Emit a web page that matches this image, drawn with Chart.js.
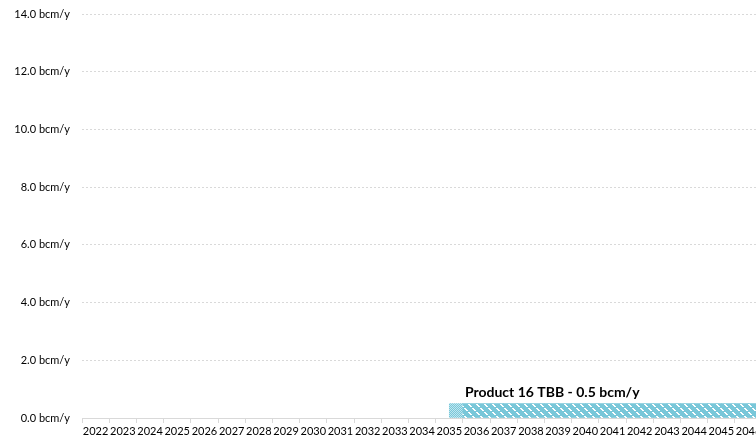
<!DOCTYPE html>
<html>
<head>
<meta charset="utf-8">
<script src="https://cdn.jsdelivr.net/npm/chart.js@4/dist/chart.umd.min.js"></script>
<style>
html,body{margin:0;padding:0;background:#fff;overflow:hidden;width:756px;height:439px;}
#wrap{position:absolute;left:0;top:0;width:877px;height:439px;}
</style>
</head>
<body>
<div id="wrap"><canvas id="c" width="877" height="439"></canvas></div>
<script>
// ---- data ----
const years = ['2022','2023','2024','2025','2026','2027','2028','2029','2030','2031','2032','2033','2034','2035','2036','2037','2038','2039','2040','2041','2042','2043','2044','2045','2046','2047','2048','2049','2050'];
// first half of each year (bcm/y)
const tbbFirstHalf  = [null,null,null,null,null,null,null,null,null,null,null,null,null,null,0.5,0.5,0.5,0.5,0.5,0.5,0.5,0.5,0.5,0.5,0.5,0.5,0.5,0.5,0.5];
// second half of each year (bcm/y) - start-up mid 2035
const tbbSecondHalf = [null,null,null,null,null,null,null,null,null,null,null,null,null,0.5,0.5,0.5,0.5,0.5,0.5,0.5,0.5,0.5,0.5,0.5,0.5,0.5,0.5,0.5,0.5];
const productName = 'Product 16 TBB';
const capacity = 0.5;
const yTicks = [0,2,4,6,8,10,12,14];

// ---- patterns ----
const BASE = '#79C7D9';
function hatch(){
  const c = document.createElement('canvas'); c.width = 8; c.height = 8;
  const g = c.getContext('2d');
  g.fillStyle = BASE; g.fillRect(0,0,8,8);
  g.fillStyle = '#ffffff';
  for (let i = 0; i < 8; i++) { if (i % 4 === 3) continue; g.fillRect(i, i, 2, 1); }
  return g.createPattern(c, 'repeat');
}
function dense(){
  const c = document.createElement('canvas'); c.width = 2; c.height = 2;
  const g = c.getContext('2d');
  g.fillStyle = BASE; g.fillRect(0,0,2,2);
  g.fillStyle = '#bfe6ef'; g.fillRect(0,0,1,1); g.fillRect(1,1,1,1);
  return g.createPattern(c, 'repeat');
}
const hatchP = hatch(), denseP = dense();
const firstIdx = tbbSecondHalf.findIndex(v => v !== null);
const fillFor = ctx => ctx.dataIndex === firstIdx && tbbFirstHalf[ctx.dataIndex] === null ? denseP : hatchP;

const FONT = "Lato, 'Open Sans', sans-serif";

const labelPlugin = {
  id: 'tbbLabel',
  afterDatasetsDraw(chart){
    const meta = chart.getDatasetMeta(0);
    const idx = tbbFirstHalf.findIndex(v => v !== null);
    const el = meta.data[idx];
    if (!el) return;
    const x = el.x - el.width / 2;
    const y = chart.scales.y.getPixelForValue(capacity);
    const g = chart.ctx;
    g.save();
    g.font = "bold 14px " + FONT;
    g.fillStyle = '#000';
    g.textAlign = 'left';
    g.textBaseline = 'alphabetic';
    g.fillText(productName + ' - ' + capacity.toFixed(1) + ' bcm/y', x + 2, y - 7);
    g.restore();
  }
};

new Chart(document.getElementById('c'), {
  type: 'bar',
  data: {
    labels: years,
    datasets: [
      { label: productName, data: tbbFirstHalf, stack: 'h1', backgroundColor: fillFor, borderWidth: 0 },
      { label: productName, data: tbbSecondHalf, stack: 'h2', backgroundColor: fillFor, borderWidth: 0 }
    ]
  },
  options: {
    responsive: false,
    animation: false,
    devicePixelRatio: 1,
    layout: { padding: { top: 14, left: 0, right: 6, bottom: 0 } },
    datasets: { bar: { categoryPercentage: 1, barPercentage: 1 } },
    plugins: { legend: { display: false }, tooltip: { enabled: false } },
    scales: {
      x: {
        stacked: true,
        grid: { drawOnChartArea: false, drawTicks: true, tickLength: 5, color: '#d9d9d9', offset: true },
        border: { color: '#d9d9d9' },
        ticks: { autoSkip: false, maxRotation: 0, minRotation: 0, color: '#000', font: { family: FONT, size: 11 }, padding: 2 },
        afterFit(s){ s.height = 21; }
      },
      y: {
        stacked: true,
        min: 0, max: 14,
        afterBuildTicks(s){ s.ticks = yTicks.map(v => ({ value: v })); },
        grid: { color: '#d9d9d9', drawTicks: false },
        border: { display: false, dash: [2, 2] },
        ticks: { color: '#000', font: { family: FONT, size: 11, lineHeight: 0.5 }, padding: 12,
                 callback: v => Number(v).toFixed(1) + ' bcm/y' },
        afterFit(s){ s.width = 82; s.paddingTop = 0; s.paddingBottom = 0; }
      }
    }
  },
  plugins: [labelPlugin]
});
</script>
</body>
</html>
